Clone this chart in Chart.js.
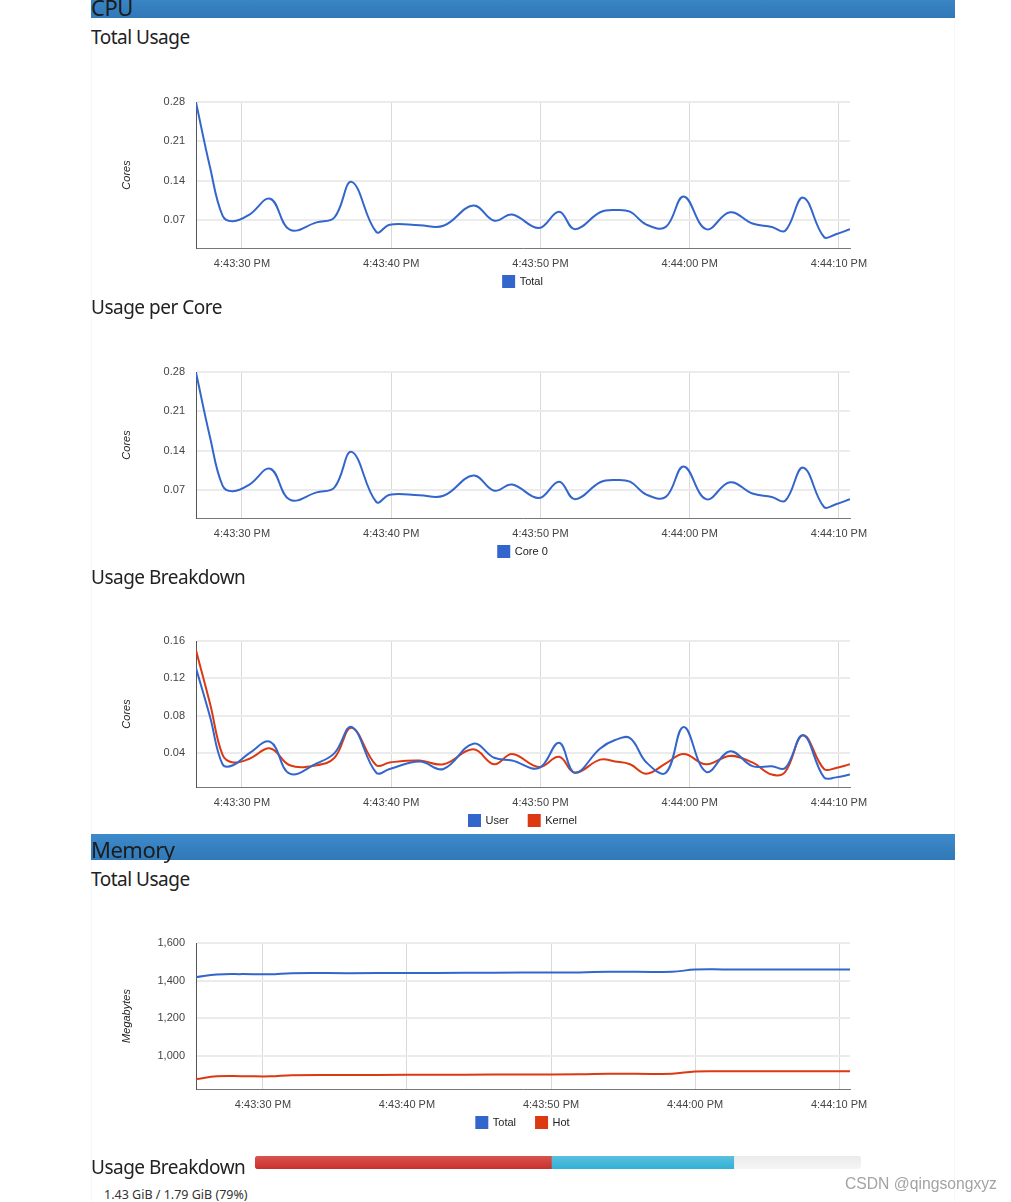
<!DOCTYPE html>
<html>
<head>
<meta charset="utf-8">
<script src="https://cdn.jsdelivr.net/npm/chart.js@4.4.1/dist/chart.umd.min.js"></script>
<style>
  body { margin: 0; background: #fff; width: 1011px; height: 1202px; position: relative; overflow: hidden; font-family: "Noto Sans", sans-serif; color: #222; }
  .panel { position: absolute; left: 91px; top: 0; width: 864px; height: 1202px; border-left: 1px solid #f7f7f7; border-right: 1px solid #f7f7f7; box-sizing: border-box; }
  .bar { position: absolute; left: 91px; width: 864px; height: 26px; background: linear-gradient(#3d8aca, #3178b8); }
  .bar span { position: absolute; left: 0; top: 3.5px; font-size: 22px; line-height: 22px; color: #1c1c1c; letter-spacing: -0.5px; }
  .h { position: absolute; left: 91px; font-size: 19px; line-height: 19px; color: #222; white-space: nowrap; letter-spacing: -0.5px; }
  .c { position: absolute; left: 91px; }
  .note { position: absolute; left: 104px; top: 1189px; font-size: 12.5px; line-height: 12.5px; color: #333; white-space: nowrap; }
  .mark { position: absolute; left: 845px; top: 1176px; font-family: "Liberation Sans", Arial, sans-serif; font-size: 15.7px; line-height: 15.7px; color: #a3a3a3; white-space: nowrap; }
</style>
</head>
<body>
<div class="panel"></div>

<div class="bar" style="top:-8px"><span>CPU</span></div>
<canvas class="c" id="cpuTotalChart" width="864" height="240" style="top:82px"></canvas>
<div class="h" style="top:28px">Total Usage</div>
<canvas class="c" id="cpuCoreChart" width="864" height="240" style="top:352px"></canvas>
<div class="h" style="top:298px">Usage per Core</div>
<canvas class="c" id="cpuBreakdownChart" width="864" height="240" style="top:621px"></canvas>
<div class="h" style="top:568px">Usage Breakdown</div>

<div class="bar" style="top:834px"><span>Memory</span></div>
<canvas class="c" id="memTotalChart" width="864" height="240" style="top:923px"></canvas>
<div class="h" style="top:870px">Total Usage</div>
<div class="h" style="top:1158px">Usage Breakdown</div>
<canvas id="memBarChart" width="606" height="13" style="position:absolute;left:255px;top:1156px"></canvas>
<div class="note">1.43 GiB / 1.79 GiB (79%)</div>
<div class="mark">CSDN @qingsongxyz</div>

<script>
// time axis: seconds relative to 4:43:30 PM
var xTickSeconds = [0, 10, 20, 30, 40];
var xTickLabels = ['4:43:30 PM', '4:43:40 PM', '4:43:50 PM', '4:44:00 PM', '4:44:10 PM'];

// CPU samples
var cpuTimes = [-3.08, -2.14, -1.3, -0.6, 0.5, 1.9, 3.2, 5.0, 6.2, 7.35, 9.0, 9.9, 11.9, 13.5, 15.5, 16.9, 18.1,
  19.9, 21.25, 22.3, 24.0, 25.0, 26.0, 27.1, 28.4, 29.6, 31.1, 32.7, 34.2, 35.5, 36.4, 37.6, 39.0, 39.8, 40.74];
var cpuTotal = [0.279, 0.164, 0.078, 0.068, 0.080, 0.108, 0.053, 0.066, 0.075, 0.138, 0.049, 0.062, 0.061, 0.060, 0.096, 0.069, 0.080,
  0.056, 0.085, 0.054, 0.084, 0.088, 0.085, 0.062, 0.058, 0.112, 0.054, 0.084, 0.064, 0.058, 0.051, 0.110, 0.040, 0.045, 0.054];
var cpuCore0 = [0.279, 0.164, 0.078, 0.068, 0.080, 0.108, 0.053, 0.066, 0.075, 0.138, 0.049, 0.062, 0.061, 0.060, 0.096, 0.069, 0.080,
  0.056, 0.085, 0.054, 0.084, 0.088, 0.085, 0.062, 0.058, 0.112, 0.054, 0.084, 0.064, 0.058, 0.051, 0.110, 0.040, 0.045, 0.054];
var cpuUser = [0.131, 0.079, 0.028, 0.027, 0.040, 0.052, 0.018, 0.029, 0.040, 0.068, 0.019, 0.023, 0.031, 0.023, 0.050, 0.035, 0.032,
  0.024, 0.051, 0.019, 0.045, 0.054, 0.056, 0.030, 0.019, 0.068, 0.020, 0.042, 0.026, 0.026, 0.024, 0.059, 0.014, 0.014, 0.017];
var cpuKernel = [0.150, 0.093, 0.038, 0.030, 0.034, 0.045, 0.027, 0.027, 0.035, 0.067, 0.027, 0.030, 0.032, 0.028, 0.044, 0.028, 0.039,
  0.025, 0.036, 0.019, 0.033, 0.031, 0.028, 0.018, 0.029, 0.039, 0.028, 0.037, 0.030, 0.017, 0.020, 0.059, 0.023, 0.024, 0.028];
var coreTicks = [0.07, 0.14, 0.21, 0.28];
var coreTickLabels = ['0.07', '0.14', '0.21', '0.28'];
var breakdownTicks = [0.04, 0.08, 0.12, 0.16];
var breakdownTickLabels = ['0.04', '0.08', '0.12', '0.16'];

// memory samples (MB)
var memTimes = [-4.65, -3.2, -1.5, 0.5, 2.0, 6, 10, 14, 18, 22, 24, 28.4, 30, 32, 36, 40.76];
var memTotal = [1419, 1433, 1435, 1434, 1440, 1440, 1441, 1442, 1443, 1444, 1448, 1448, 1459, 1460, 1460, 1460];
var memHot = [879, 893, 894, 893, 899, 900, 901, 902, 903, 904, 907, 907, 919, 920, 920, 920];
var memTicks = [1000, 1200, 1400, 1600];
var memTickLabels = ['1,000', '1,200', '1,400', '1,600'];

// memory breakdown bar (% of limit)
var memHotPercent = 48.9;
var memUsagePercent = 79;

var BLUE = '#3366cc', RED = '#dc3912';
var FONT = '"Liberation Sans", Arial, sans-serif';

// legend sits right under the tick labels and is centred on the whole canvas, like the Google chart
var legendLift = {
  id: 'legendLift',
  afterLayout: function (chart) {
    var lg = chart.legend;
    lg.top -= 20;
    lg.bottom -= 20;
    lg.left = 0;
    lg.right = chart.width;
    lg.width = chart.width;
  }
};

function lineChart(id, xs, series, xMin, xMax, yMin, yMax, yTicks, yLabels, yTitle) {
  new Chart(document.getElementById(id), {
    type: 'line',
    data: {
      datasets: series.map(function (s) {
        return {
          label: s.label,
          data: xs.map(function (x, i) { return { x: x, y: s.values[i] }; }),
          borderColor: s.color,
          backgroundColor: s.color,
          borderWidth: 2,
          pointRadius: 0,
          tension: 0.4,
          fill: false
        };
      })
    },
    plugins: [legendLift],
    options: {
      responsive: false,
      animation: false,
      layout: { padding: { top: 20, right: 105, bottom: 5, left: 0 } },
      plugins: {
        legend: {
          position: 'bottom',
          labels: { boxWidth: 11, boxHeight: 11, padding: 20, color: '#222', font: { family: FONT, size: 11 } }
        },
        tooltip: { enabled: false }
      },
      scales: {
        x: {
          type: 'linear', min: xMin, max: xMax,
          afterBuildTicks: function (s) { s.ticks = xTickSeconds.map(function (v) { return { value: v }; }); },
          afterFit: function (s) { s.height = 28; },
          ticks: {
            callback: function (v, i) { return xTickLabels[i]; },
            padding: 9, maxRotation: 0, autoSkip: false, color: '#444', font: { family: FONT, size: 11 }
          },
          grid: { color: '#d9d9d9', lineWidth: 1, drawTicks: false },
          border: { color: '#777', width: 1 }
        },
        y: {
          min: yMin, max: yMax,
          afterBuildTicks: function (s) { s.ticks = yTicks.map(function (v) { return { value: v }; }); },
          afterFit: function (s) { s.width = 105; },
          ticks: {
            callback: function (v, i) { return yLabels[i]; },
            padding: 11, color: '#444', font: { family: FONT, size: 11 }
          },
          grid: { color: '#ebebeb', lineWidth: 2, drawTicks: false },
          border: { color: '#555', width: 1 },
          title: {
            display: true, text: yTitle, color: '#222',
            font: { family: FONT, size: 11, style: 'italic' },
            padding: { top: 29, bottom: 0 }
          }
        }
      }
    }
  });
}

lineChart('cpuTotalChart', cpuTimes, [{ label: 'Total', values: cpuTotal, color: BLUE }],
  -3.08, 40.74, 0.0205, 0.28, coreTicks, coreTickLabels, 'Cores');
lineChart('cpuCoreChart', cpuTimes, [{ label: 'Core 0', values: cpuCore0, color: BLUE }],
  -3.08, 40.74, 0.0205, 0.28, coreTicks, coreTickLabels, 'Cores');
lineChart('cpuBreakdownChart', cpuTimes, [
  { label: 'User', values: cpuUser, color: BLUE },
  { label: 'Kernel', values: cpuKernel, color: RED }
], -3.08, 40.74, 0.0037, 0.16, breakdownTicks, breakdownTickLabels, 'Cores');
lineChart('memTotalChart', memTimes, [
  { label: 'Total', values: memTotal, color: BLUE },
  { label: 'Hot', values: memHot, color: RED }
], -4.65, 40.76, 826, 1600, memTicks, memTickLabels, 'Megabytes');

// progress-style usage bar
function grad(top, bottom) {
  return function (ctx) {
    var g = ctx.chart.ctx.createLinearGradient(0, 0, 0, ctx.chart.height);
    g.addColorStop(0, top);
    g.addColorStop(1, bottom);
    return g;
  };
}
new Chart(document.getElementById('memBarChart'), {
  type: 'bar',
  data: {
    labels: ['Usage'],
    datasets: [
      { label: 'Hot', data: [memHotPercent], backgroundColor: grad('#d9534f', '#c9302c'),
        borderRadius: { topLeft: 4, bottomLeft: 4, topRight: 0, bottomRight: 0 }, borderSkipped: false },
      { label: 'Cold', data: [memUsagePercent - memHotPercent], backgroundColor: grad('#5bc0de', '#31b0d5'),
        borderRadius: 0, borderSkipped: false },
      { label: 'Free', data: [100 - memUsagePercent], backgroundColor: grad('#ebebeb', '#f5f5f5'),
        borderRadius: { topLeft: 0, bottomLeft: 0, topRight: 4, bottomRight: 4 }, borderSkipped: false }
    ]
  },
  options: {
    indexAxis: 'y',
    responsive: false,
    animation: false,
    layout: { padding: 0 },
    datasets: { bar: { barPercentage: 1, categoryPercentage: 1 } },
    plugins: { legend: { display: false }, tooltip: { enabled: false } },
    scales: {
      x: { stacked: true, min: 0, max: 100, display: false },
      y: { stacked: true, display: false }
    }
  }
});
</script>
</body>
</html>
